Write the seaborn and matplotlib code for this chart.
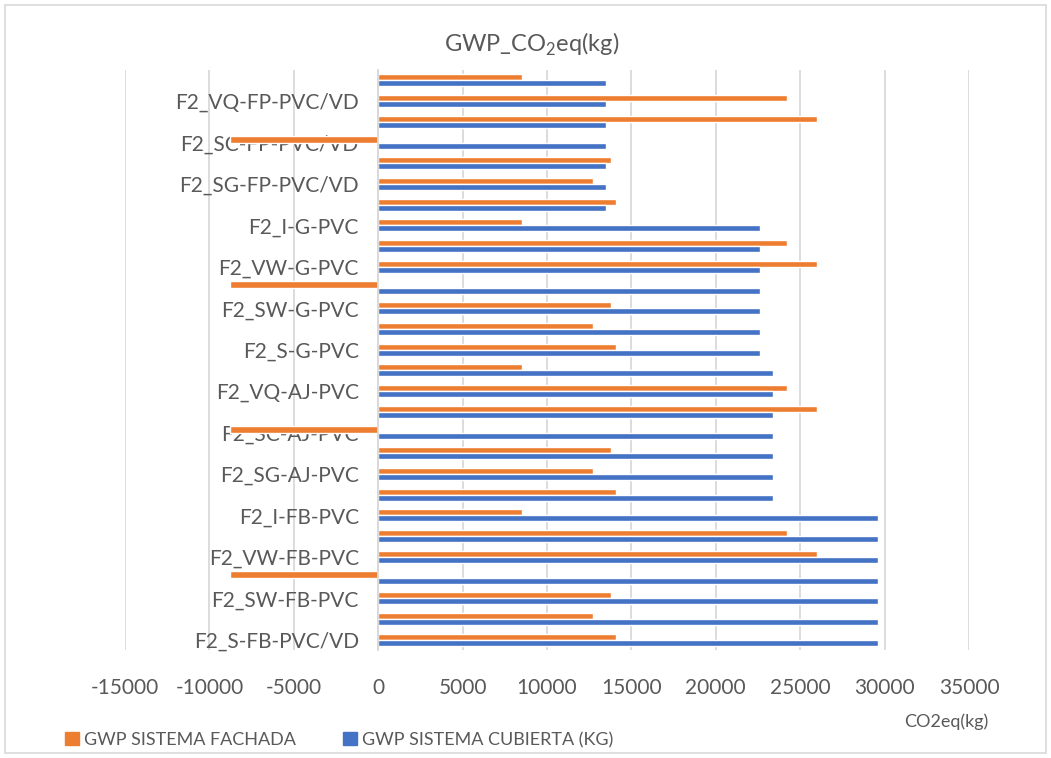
import numpy as np
import pandas as pd
import seaborn as sns
import matplotlib.pyplot as plt
from matplotlib.patches import Rectangle, Patch

# --- Données (de haut en bas, comme sur le graphique) ---
categorias = [
    "F2_I-FP-PVC/VD", "F2_VQ-FP-PVC/VD", "F2_VW-FP-PVC/VD", "F2_SC-FP-PVC/VD",
    "F2_SW-FP-PVC/VD", "F2_SG-FP-PVC/VD", "F2_S-FP-PVC/VD",
    "F2_I-G-PVC", "F2_VQ-G-PVC", "F2_VW-G-PVC", "F2_SC-G-PVC",
    "F2_SW-G-PVC", "F2_SG-G-PVC", "F2_S-G-PVC",
    "F2_I-AJ-PVC", "F2_VQ-AJ-PVC", "F2_VW-AJ-PVC", "F2_SC-AJ-PVC",
    "F2_SW-AJ-PVC", "F2_SG-AJ-PVC", "F2_S-AJ-PVC",
    "F2_I-FB-PVC", "F2_VQ-FB-PVC", "F2_VW-FB-PVC", "F2_SC-FB-PVC",
    "F2_SW-FB-PVC", "F2_SG-FB-PVC", "F2_S-FB-PVC/VD",
]
gwp_fachada = [8500, 24200, 26000, -8800, 13800, 12700, 14100] * 4
gwp_cubierta = [13500] * 7 + [22600] * 7 + [23400] * 7 + [29600] * 7

serie_fachada = "GWP SISTEMA FACHADA"
serie_cubierta = "GWP SISTEMA CUBIERTA (KG)"
colores = {serie_fachada: "#ED7D31", serie_cubierta: "#4472C4"}
gris = "#595959"

df = pd.DataFrame({
    "categoria": categorias * 2,
    "valor": gwp_fachada + gwp_cubierta,
    "serie": [serie_fachada] * len(categorias) + [serie_cubierta] * len(categorias),
})

sns.set_theme(style="white")
plt.rcParams["font.family"] = ["Lato", "DejaVu Sans"]
plt.rcParams["mathtext.fontset"] = "custom"
plt.rcParams["mathtext.rm"] = "Lato"
plt.rcParams["axes.unicode_minus"] = False

fig = plt.figure(figsize=(10.51, 7.58), dpi=100)
ax = fig.add_axes([125 / 1051, 1 - 650 / 758, (969 - 125) / 1051, (650 - 70) / 758])

sns.barplot(data=df, y="categoria", x="valor", hue="serie", order=categorias,
            hue_order=[serie_fachada, serie_cubierta], palette=colores,
            orient="h", width=0.58, gap=0, saturation=1, ax=ax, legend=False)

ax.set_xlim(-15000, 35000)
ax.set_ylim(len(categorias) - 0.5, -0.5)
ax.set_xticks(np.arange(-15000, 35001, 5000))
ax.grid(axis="x", color="#d9d9d9", linewidth=1.3)
ax.set_axisbelow(True)
for s in ["top", "right", "bottom"]:
    ax.spines[s].set_visible(False)
ax.spines["left"].set_position(("data", 0))
ax.spines["left"].set_color("#d9d9d9")
ax.spines["left"].set_linewidth(1.3)

# une étiquette sur deux
idx = list(range(1, len(categorias), 2))
ax.set_yticks(idx)
ax.set_yticklabels([categorias[i] for i in idx])
ax.tick_params(axis="y", length=0, pad=14, labelsize=15, labelcolor=gris)
ax.tick_params(axis="x", length=0, pad=20, labelsize=15, labelcolor=gris)
ax.set_xlabel("")
ax.set_ylabel("")

fig.text(532 / 1051, 1 - 44 / 758, r"GWP_CO$_\mathregular{2}$eq(kg)",
         ha="center", va="center", fontsize=17, color=gris)
fig.text(946 / 1051, 1 - 722 / 758, "CO2eq(kg)", ha="center", va="center",
         fontsize=13, color=gris)

handles = [Patch(color=colores[serie_fachada], label=serie_fachada),
           Patch(color=colores[serie_cubierta], label=serie_cubierta)]
fig.legend(handles=handles, loc="center left", bbox_to_anchor=(49 / 1051, 1 - 740 / 758),
           ncol=2, frameon=False, fontsize=13, labelcolor=gris,
           handlelength=0.75, handleheight=0.75, handletextpad=0.3, columnspacing=2.6)

fig.patches.append(Rectangle((5 / 1051, 5 / 758), 1 - 10 / 1051, 1 - 10 / 758,
                             transform=fig.transFigure, fill=False,
                             edgecolor="#d9d9d9", linewidth=1.2))

fig.savefig("out.png", dpi=100)
